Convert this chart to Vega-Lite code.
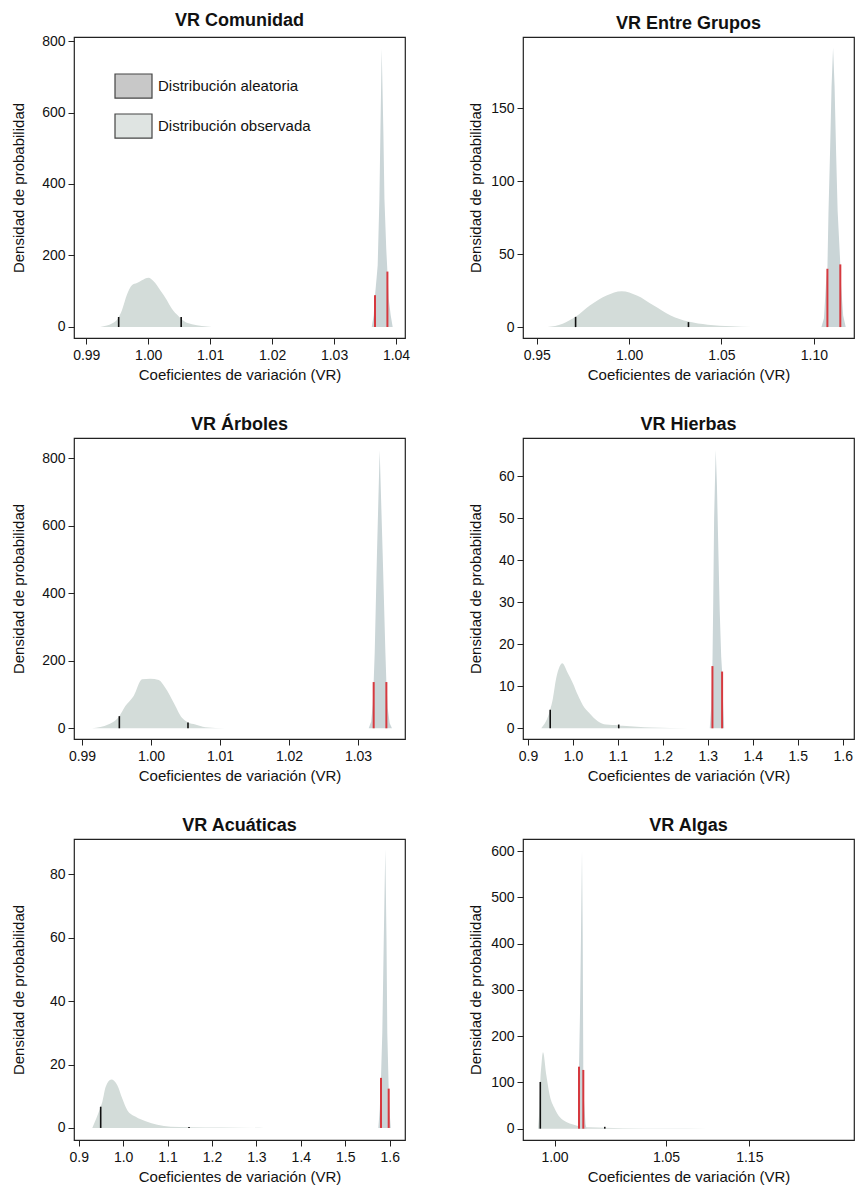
{
  "$schema": "https://vega.github.io/schema/vega-lite/v6.json",
  "background": "white",
  "padding": {"left": 10, "top": 11, "right": 0, "bottom": 0},
  "bounds": "flush",
  "columns": 2,
  "spacing": {"row": 100, "column": 118},
  "resolve": {"scale": {"fill": "independent"}, "legend": {"fill": "independent"}},
  "config": {
    "font": "Liberation Sans",
    "view": {"stroke": "#222", "strokeWidth": 1.2},
    "axis": {"grid": false, "domain": false, "tickColor": "#222", "tickSize": 6, "tickWidth": 1,
      "labelFontSize": 14, "labelColor": "#111", "labelFont": "Liberation Sans", "labelFlush": false, "labelOverlap": false,
      "titleFontSize": 15, "titleFontWeight": "normal", "titleColor": "#111", "titleFont": "Liberation Sans"},
    "axisX": {"labelPadding": 4, "titlePadding": 5},
    "axisY": {"labelPadding": 3},
    "title": {"fontSize": 18, "fontWeight": "bold", "font": "Liberation Sans", "color": "#111", "offset": 4}
  },
  "datasets": {
    "com_a": [
      {"vr": 0.99226, "densidad": 0}, {"vr": 0.99334, "densidad": 4}, {"vr": 0.99415, "densidad": 10},
      {"vr": 0.99511, "densidad": 24}, {"vr": 0.99576, "densidad": 47}, {"vr": 0.99656, "densidad": 90},
      {"vr": 0.99737, "densidad": 117}, {"vr": 0.99818, "densidad": 123}, {"vr": 0.99898, "densidad": 131},
      {"vr": 1.00006, "densidad": 138}, {"vr": 1.00087, "densidad": 128}, {"vr": 1.00194, "densidad": 103},
      {"vr": 1.00302, "densidad": 75}, {"vr": 1.00382, "densidad": 51}, {"vr": 1.0049, "densidad": 30},
      {"vr": 1.00597, "densidad": 14}, {"vr": 1.00705, "densidad": 8}, {"vr": 1.00866, "densidad": 3},
      {"vr": 1.01027, "densidad": 0}
    ],
    "com_o": [
      {"vr": 1.03608, "densidad": 0}, {"vr": 1.0364, "densidad": 33}, {"vr": 1.03661, "densidad": 89},
      {"vr": 1.03688, "densidad": 140}, {"vr": 1.03704, "densidad": 173}, {"vr": 1.03732, "densidad": 359},
      {"vr": 1.03748, "densidad": 545}, {"vr": 1.03769, "densidad": 778}, {"vr": 1.03796, "densidad": 545},
      {"vr": 1.03813, "densidad": 359}, {"vr": 1.03842, "densidad": 220}, {"vr": 1.03861, "densidad": 155},
      {"vr": 1.03882, "densidad": 80}, {"vr": 1.03914, "densidad": 33}, {"vr": 1.03946, "densidad": 0}
    ],
    "com_n": [{"vr": 0.99523, "densidad": 28}, {"vr": 1.00532, "densidad": 28}],
    "com_r": [{"vr": 1.03661, "densidad": 89}, {"vr": 1.03861, "densidad": 155}],
    "gru_a": [
      {"vr": 0.95586, "densidad": 0}, {"vr": 0.96402, "densidad": 2.3}, {"vr": 0.97102, "densidad": 7},
      {"vr": 0.97869, "densidad": 14.8}, {"vr": 0.98777, "densidad": 21.7}, {"vr": 0.99599, "densidad": 24.6},
      {"vr": 1.0042, "densidad": 21.7}, {"vr": 1.01334, "densidad": 14.8}, {"vr": 1.02248, "densidad": 8},
      {"vr": 1.03212, "densidad": 3.8}, {"vr": 1.04252, "densidad": 1.6}, {"vr": 1.05533, "densidad": 0.5},
      {"vr": 1.06628, "densidad": 0}
    ],
    "gru_o": [
      {"vr": 1.1041, "densidad": 0}, {"vr": 1.10547, "densidad": 6}, {"vr": 1.10657, "densidad": 30},
      {"vr": 1.10733, "densidad": 40}, {"vr": 1.10794, "densidad": 80}, {"vr": 1.10876, "densidad": 120},
      {"vr": 1.10958, "densidad": 165}, {"vr": 1.1104, "densidad": 191.6}, {"vr": 1.11122, "densidad": 165},
      {"vr": 1.11204, "densidad": 120}, {"vr": 1.11286, "densidad": 80}, {"vr": 1.11432, "densidad": 43},
      {"vr": 1.11478, "densidad": 28}, {"vr": 1.11587, "densidad": 8}, {"vr": 1.11724, "densidad": 0}
    ],
    "gru_n": [{"vr": 0.97102, "densidad": 7}, {"vr": 1.03212, "densidad": 3.4}],
    "gru_r": [{"vr": 1.10733, "densidad": 40}, {"vr": 1.11432, "densidad": 43}],
    "arb_a": [
      {"vr": 0.99145, "densidad": 0}, {"vr": 0.99387, "densidad": 12}, {"vr": 0.99541, "densidad": 36},
      {"vr": 0.99628, "densidad": 66}, {"vr": 0.99749, "densidad": 96}, {"vr": 0.9987, "densidad": 145},
      {"vr": 0.9999, "densidad": 147}, {"vr": 1.00112, "densidad": 143}, {"vr": 1.00207, "densidad": 120},
      {"vr": 1.00329, "densidad": 76}, {"vr": 1.00449, "densidad": 31}, {"vr": 1.00536, "densidad": 17},
      {"vr": 1.00642, "densidad": 11}, {"vr": 1.00787, "densidad": 3}, {"vr": 1.01077, "densidad": 0}
    ],
    "arb_o": [
      {"vr": 1.03155, "densidad": 0}, {"vr": 1.03191, "densidad": 20}, {"vr": 1.03213, "densidad": 70},
      {"vr": 1.03227, "densidad": 137}, {"vr": 1.03242, "densidad": 224}, {"vr": 1.03275, "densidad": 520},
      {"vr": 1.03314, "densidad": 824}, {"vr": 1.03357, "densidad": 520}, {"vr": 1.03397, "densidad": 224},
      {"vr": 1.03411, "densidad": 137}, {"vr": 1.0343, "densidad": 60}, {"vr": 1.03459, "densidad": 15},
      {"vr": 1.03492, "densidad": 0}
    ],
    "arb_n": [{"vr": 0.99541, "densidad": 36}, {"vr": 1.00536, "densidad": 17}],
    "arb_r": [{"vr": 1.03227, "densidad": 137}, {"vr": 1.03411, "densidad": 137}],
    "hie_a": [
      {"vr": 0.9295, "densidad": 0}, {"vr": 0.9494, "densidad": 4.4}, {"vr": 0.9554, "densidad": 7.1},
      {"vr": 0.9627, "densidad": 11.9}, {"vr": 0.9703, "densidad": 14.7}, {"vr": 0.9761, "densidad": 15.5},
      {"vr": 0.9887, "densidad": 13.1}, {"vr": 0.9998, "densidad": 10.7}, {"vr": 1.0109, "densidad": 7.9},
      {"vr": 1.022, "densidad": 5.5}, {"vr": 1.0368, "densidad": 3.6}, {"vr": 1.0552, "densidad": 1.7},
      {"vr": 1.0736, "densidad": 0.9}, {"vr": 1.1018, "densidad": 0.7}, {"vr": 1.1106, "densidad": 0.6},
      {"vr": 1.175, "densidad": 0.2}, {"vr": 1.2585, "densidad": 0}
    ],
    "hie_o": [
      {"vr": 1.30422, "densidad": 0}, {"vr": 1.30754, "densidad": 5}, {"vr": 1.3102, "densidad": 14.8},
      {"vr": 1.31198, "densidad": 30}, {"vr": 1.31397, "densidad": 50}, {"vr": 1.31752, "densidad": 66.2},
      {"vr": 1.32018, "densidad": 58}, {"vr": 1.32284, "densidad": 45}, {"vr": 1.32639, "densidad": 28},
      {"vr": 1.32971, "densidad": 17}, {"vr": 1.33171, "densidad": 13.5}, {"vr": 1.33415, "densidad": 5},
      {"vr": 1.33636, "densidad": 0}
    ],
    "hie_n": [{"vr": 0.9494, "densidad": 4.4}, {"vr": 1.1018, "densidad": 0.9}],
    "hie_r": [{"vr": 1.3102, "densidad": 14.8}, {"vr": 1.33171, "densidad": 13.5}],
    "acu_a": [
      {"vr": 0.9306, "densidad": 0}, {"vr": 0.9495, "densidad": 6.7}, {"vr": 0.9531, "densidad": 8.2},
      {"vr": 0.9608, "densidad": 13}, {"vr": 0.9734, "densidad": 15.3}, {"vr": 0.9869, "densidad": 13.5},
      {"vr": 0.9981, "densidad": 9.3}, {"vr": 1.0094, "densidad": 5.6}, {"vr": 1.0283, "densidad": 3.5},
      {"vr": 1.0508, "densidad": 2.1}, {"vr": 1.0769, "densidad": 1}, {"vr": 1.1071, "densidad": 0.4},
      {"vr": 1.1483, "densidad": 0.25}, {"vr": 1.2225, "densidad": 0.12}, {"vr": 1.3171, "densidad": 0}
    ],
    "acu_o": [
      {"vr": 1.57431, "densidad": 0}, {"vr": 1.57769, "densidad": 6}, {"vr": 1.58039, "densidad": 15.8},
      {"vr": 1.58332, "densidad": 30}, {"vr": 1.58669, "densidad": 60}, {"vr": 1.59007, "densidad": 87.9},
      {"vr": 1.59277, "densidad": 60}, {"vr": 1.59457, "densidad": 30}, {"vr": 1.59772, "densidad": 12.4},
      {"vr": 1.6002, "densidad": 4}, {"vr": 1.60245, "densidad": 0}
    ],
    "acu_n": [{"vr": 0.9495, "densidad": 6.7}, {"vr": 1.1483, "densidad": 0.3}],
    "acu_r": [{"vr": 1.58039, "densidad": 15.8}, {"vr": 1.59772, "densidad": 12.4}],
    "alg_a": [
      {"vr": 0.99271, "densidad": 0}, {"vr": 0.99339, "densidad": 50}, {"vr": 0.99374, "densidad": 101},
      {"vr": 0.99428, "densidad": 140}, {"vr": 0.99495, "densidad": 165}, {"vr": 0.99643, "densidad": 116},
      {"vr": 0.99795, "densidad": 72}, {"vr": 1.00019, "densidad": 43}, {"vr": 1.00243, "densidad": 25},
      {"vr": 1.00538, "densidad": 14.5}, {"vr": 1.00838, "densidad": 9}, {"vr": 1.01062, "densidad": 6},
      {"vr": 1.01586, "densidad": 3}, {"vr": 1.0226, "densidad": 2}, {"vr": 1.03076, "densidad": 1},
      {"vr": 1.05, "densidad": 0.3}, {"vr": 1.1, "densidad": 0}
    ],
    "alg_o": [
      {"vr": 1.01062, "densidad": 0}, {"vr": 1.01107, "densidad": 134}, {"vr": 1.01151, "densidad": 250},
      {"vr": 1.01196, "densidad": 420}, {"vr": 1.01241, "densidad": 602}, {"vr": 1.01272, "densidad": 420},
      {"vr": 1.01299, "densidad": 127}, {"vr": 1.01331, "densidad": 60}, {"vr": 1.01398, "densidad": 10},
      {"vr": 1.01443, "densidad": 0}
    ],
    "alg_n": [{"vr": 0.99374, "densidad": 101}, {"vr": 1.0226, "densidad": 4}],
    "alg_r": [{"vr": 1.01107, "densidad": 134}, {"vr": 1.01299, "densidad": 127}]
  },
  "concat": [
    {
      "width": 331, "height": 301,
      "title": "VR Comunidad",
      "layer": [
        {"data": {"name": "com_a"}, "mark": {"type": "area", "color": "#d3dcd9", "interpolate": "monotone"},
         "encoding": {
           "x": {"field": "vr", "type": "quantitative", "title": "Coeficientes de variación (VR)",
             "scale": {"domain": [0.98802, 1.04145], "nice": false, "zero": false},
             "axis": {"values": [0.99, 1.0, 1.01, 1.02, 1.03, 1.04], "format": ".2f"}},
           "y": {"field": "densidad", "type": "quantitative", "title": "Densidad de probabilidad",
             "scale": {"domain": [-30.8, 811.2], "nice": false, "zero": false},
             "axis": {"values": [0, 200, 400, 600, 800], "format": "d", "titleX": -47.5}}
         }},
        {"data": {"name": "com_o"}, "mark": {"type": "area", "color": "#cad5d7"},
         "encoding": {"x": {"field": "vr", "type": "quantitative"}, "y": {"field": "densidad", "type": "quantitative"}}},
        {"data": {"name": "com_n"}, "mark": {"type": "rule", "color": "#111", "strokeWidth": 1.6},
         "encoding": {"x": {"field": "vr", "type": "quantitative"}, "y": {"field": "densidad", "type": "quantitative"}, "y2": {"datum": 0}}},
        {"data": {"name": "com_r"}, "mark": {"type": "rule", "color": "#d6393f", "strokeWidth": 2},
         "encoding": {"x": {"field": "vr", "type": "quantitative"}, "y": {"field": "densidad", "type": "quantitative"}, "y2": {"datum": 0}}},
        {"data": {"values": [{"leyenda": "Distribución aleatoria"}, {"leyenda": "Distribución observada"}]},
         "mark": {"type": "point", "filled": true, "opacity": 0},
         "encoding": {"fill": {"field": "leyenda", "type": "nominal",
           "scale": {"domain": ["Distribución aleatoria", "Distribución observada"], "range": ["#c8c8c8", "#dfe4e2"]},
           "legend": {"title": null, "orient": "none", "legendX": 40, "legendY": 29.5, "padding": 0,
             "symbolType": "M-1,-0.65H1V0.65H-1Z", "symbolSize": 1369, "symbolStrokeColor": "#444",
             "symbolStrokeWidth": 1.2, "symbolOpacity": 1, "labelFontSize": 15, "labelFont": "Liberation Sans",
             "labelColor": "#111", "labelOffset": 5, "rowPadding": 6}}}}
      ]
    },
    {
      "width": 331, "height": 301,
      "title": "VR Entre Grupos",
      "layer": [
        {"data": {"name": "gru_a"}, "mark": {"type": "area", "color": "#d3dcd9", "interpolate": "monotone"},
         "encoding": {
           "x": {"field": "vr", "type": "quantitative", "title": "Coeficientes de variación (VR)",
             "scale": {"domain": [0.94255, 1.12173], "nice": false, "zero": false},
             "axis": {"values": [0.95, 1.0, 1.05, 1.1], "format": ".2f"}},
           "y": {"field": "densidad", "type": "quantitative", "title": "Densidad de probabilidad",
             "scale": {"domain": [-7.5, 199], "nice": false, "zero": false},
             "axis": {"values": [0, 50, 100, 150], "format": "d", "titleX": -40}}
         }},
        {"data": {"name": "gru_o"}, "mark": {"type": "area", "color": "#cad5d7"},
         "encoding": {"x": {"field": "vr", "type": "quantitative"}, "y": {"field": "densidad", "type": "quantitative"}}},
        {"data": {"name": "gru_n"}, "mark": {"type": "rule", "color": "#111", "strokeWidth": 1.6},
         "encoding": {"x": {"field": "vr", "type": "quantitative"}, "y": {"field": "densidad", "type": "quantitative"}, "y2": {"datum": 0}}},
        {"data": {"name": "gru_r"}, "mark": {"type": "rule", "color": "#d6393f", "strokeWidth": 2},
         "encoding": {"x": {"field": "vr", "type": "quantitative"}, "y": {"field": "densidad", "type": "quantitative"}, "y2": {"datum": 0}}}
      ]
    },
    {
      "width": 331, "height": 301,
      "title": "VR Árboles",
      "layer": [
        {"data": {"name": "arb_a"}, "mark": {"type": "area", "color": "#d3dcd9", "interpolate": "monotone"},
         "encoding": {
           "x": {"field": "vr", "type": "quantitative", "title": "Coeficientes de variación (VR)",
             "scale": {"domain": [0.98884, 1.03681], "nice": false, "zero": false},
             "axis": {"values": [0.99, 1.0, 1.01, 1.02, 1.03], "format": ".2f"}},
           "y": {"field": "densidad", "type": "quantitative", "title": "Densidad de probabilidad",
             "scale": {"domain": [-31.7, 860.1], "nice": false, "zero": false},
             "axis": {"values": [0, 200, 400, 600, 800], "format": "d", "titleX": -47.5}}
         }},
        {"data": {"name": "arb_o"}, "mark": {"type": "area", "color": "#cad5d7"},
         "encoding": {"x": {"field": "vr", "type": "quantitative"}, "y": {"field": "densidad", "type": "quantitative"}}},
        {"data": {"name": "arb_n"}, "mark": {"type": "rule", "color": "#111", "strokeWidth": 1.6},
         "encoding": {"x": {"field": "vr", "type": "quantitative"}, "y": {"field": "densidad", "type": "quantitative"}, "y2": {"datum": 0}}},
        {"data": {"name": "arb_r"}, "mark": {"type": "rule", "color": "#d6393f", "strokeWidth": 2},
         "encoding": {"x": {"field": "vr", "type": "quantitative"}, "y": {"field": "densidad", "type": "quantitative"}, "y2": {"datum": 0}}}
      ]
    },
    {
      "width": 331, "height": 301,
      "title": "VR Hierbas",
      "layer": [
        {"data": {"name": "hie_a"}, "mark": {"type": "area", "color": "#d3dcd9", "interpolate": "monotone"},
         "encoding": {
           "x": {"field": "vr", "type": "quantitative", "title": "Coeficientes de variación (VR)",
             "scale": {"domain": [0.88891, 1.62506], "nice": false, "zero": false},
             "axis": {"values": [0.9, 1.0, 1.1, 1.2, 1.3, 1.4, 1.5, 1.6], "format": ".1f"}},
           "y": {"field": "densidad", "type": "quantitative", "title": "Densidad de probabilidad",
             "scale": {"domain": [-2.54, 69.04], "nice": false, "zero": false},
             "axis": {"values": [0, 10, 20, 30, 40, 50, 60], "format": "d", "titleX": -40}}
         }},
        {"data": {"name": "hie_o"}, "mark": {"type": "area", "color": "#cad5d7"},
         "encoding": {"x": {"field": "vr", "type": "quantitative"}, "y": {"field": "densidad", "type": "quantitative"}}},
        {"data": {"name": "hie_n"}, "mark": {"type": "rule", "color": "#111", "strokeWidth": 1.6},
         "encoding": {"x": {"field": "vr", "type": "quantitative"}, "y": {"field": "densidad", "type": "quantitative"}, "y2": {"datum": 0}}},
        {"data": {"name": "hie_r"}, "mark": {"type": "rule", "color": "#d6393f", "strokeWidth": 2},
         "encoding": {"x": {"field": "vr", "type": "quantitative"}, "y": {"field": "densidad", "type": "quantitative"}, "y2": {"datum": 0}}}
      ]
    },
    {
      "width": 331, "height": 301,
      "title": "VR Acuáticas",
      "layer": [
        {"data": {"name": "acu_a"}, "mark": {"type": "area", "color": "#d3dcd9", "interpolate": "monotone"},
         "encoding": {
           "x": {"field": "vr", "type": "quantitative", "title": "Coeficientes de variación (VR)",
             "scale": {"domain": [0.88942, 1.63442], "nice": false, "zero": false},
             "axis": {"values": [0.9, 1.0, 1.1, 1.2, 1.3, 1.4, 1.5, 1.6], "format": ".1f"}},
           "y": {"field": "densidad", "type": "quantitative", "title": "Densidad de probabilidad",
             "scale": {"domain": [-3.8, 91.14], "nice": false, "zero": false},
             "axis": {"values": [0, 20, 40, 60, 80], "format": "d", "titleX": -47.5}}
         }},
        {"data": {"name": "acu_o"}, "mark": {"type": "area", "color": "#cad5d7"},
         "encoding": {"x": {"field": "vr", "type": "quantitative"}, "y": {"field": "densidad", "type": "quantitative"}}},
        {"data": {"name": "acu_n"}, "mark": {"type": "rule", "color": "#111", "strokeWidth": 1.6},
         "encoding": {"x": {"field": "vr", "type": "quantitative"}, "y": {"field": "densidad", "type": "quantitative"}, "y2": {"datum": 0}}},
        {"data": {"name": "acu_r"}, "mark": {"type": "rule", "color": "#d6393f", "strokeWidth": 2},
         "encoding": {"x": {"field": "vr", "type": "quantitative"}, "y": {"field": "densidad", "type": "quantitative"}, "y2": {"datum": 0}}}
      ]
    },
    {
      "width": 331, "height": 301,
      "title": "VR Algas",
      "layer": [
        {"data": {"name": "alg_a"}, "mark": {"type": "area", "color": "#d3dcd9", "interpolate": "monotone"},
         "encoding": {
           "x": {"field": "vr", "type": "quantitative", "title": "Coeficientes de variación (VR)",
             "scale": {"domain": [0.986, 1.05, 1.15, 1.3], "range": [0, 143, 226.3, 331], "nice": false, "zero": false},
             "axis": {"values": [1.0001, 1.05, 1.15], "format": ".2f", "tickCount": 20, "labelOverlap": false, "labelFlush": false, "labelBound": false}},
           "y": {"field": "densidad", "type": "quantitative", "title": "Densidad de probabilidad",
             "scale": {"domain": [-24.5, 626.2], "nice": false, "zero": false},
             "axis": {"values": [0, 100, 200, 300, 400, 500, 600], "format": "d", "titleX": -40}}
         }},
        {"data": {"name": "alg_o"}, "mark": {"type": "area", "color": "#cad5d7"},
         "encoding": {"x": {"field": "vr", "type": "quantitative"}, "y": {"field": "densidad", "type": "quantitative"}}},
        {"data": {"name": "alg_n"}, "mark": {"type": "rule", "color": "#111", "strokeWidth": 1.6},
         "encoding": {"x": {"field": "vr", "type": "quantitative"}, "y": {"field": "densidad", "type": "quantitative"}, "y2": {"datum": 0}}},
        {"data": {"name": "alg_r"}, "mark": {"type": "rule", "color": "#d6393f", "strokeWidth": 2},
         "encoding": {"x": {"field": "vr", "type": "quantitative"}, "y": {"field": "densidad", "type": "quantitative"}, "y2": {"datum": 0}}}
      ]
    }
  ]
}
